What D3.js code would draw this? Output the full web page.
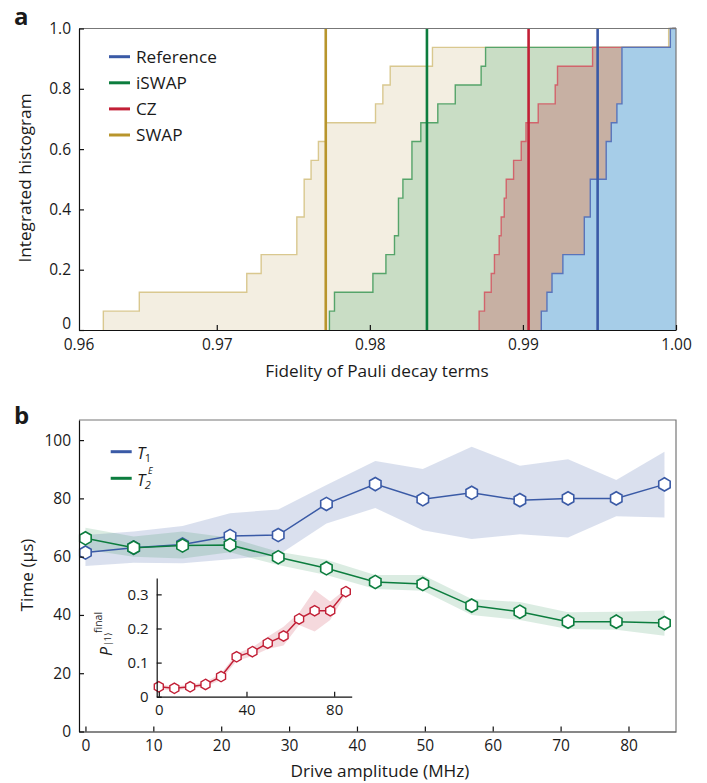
<!DOCTYPE html>
<html><head><meta charset="utf-8">
<script src="https://cdn.jsdelivr.net/npm/d3@7"></script>
<style>
body{margin:0;background:#fff}
svg{display:block}
text{font-family:"Open Sans","Liberation Sans",Arial,sans-serif;fill:#1a1a1a}
</style>
</head><body>
<svg id="c" width="707" height="783"></svg>
<script>
// ---------- DATA (panel a) ----------
const gateNames = ["Reference", "iSWAP", "CZ", "SWAP"];
const refFid   = [0.99120,0.99157,0.99190,0.99261,0.99401,0.99401,0.99440,0.99440,0.99544,0.99544,0.99577,0.99614,0.99647,0.99647,0.99647,0.99963];
const iswapFid = [0.97736,0.97769,0.98020,0.98105,0.98161,0.98187,0.98187,0.98216,0.98275,0.98275,0.98333,0.98444,0.98558,0.98727,0.98756,0.99980];
const czFid    = [0.98714,0.98749,0.98793,0.98814,0.98845,0.98858,0.98878,0.98891,0.98939,0.98989,0.99020,0.99100,0.99211,0.99226,0.99455,0.99980];
const swapFid  = [0.96259,0.96494,0.97196,0.97290,0.97523,0.97523,0.97571,0.97571,0.97616,0.97664,0.97714,0.98037,0.98085,0.98133,0.98409,0.99952];
const meanFid  = [0.99488, 0.98373, 0.99037, 0.97712]; // Reference, iSWAP, CZ, SWAP
const fidTicks = [0.97, 0.98, 0.99, 1.00];
const histTicks = [0, 0.2, 0.4, 0.6, 0.8, 1.0];

// ---------- DATA (panel b) ----------
const drive = [0, 7.1, 14.3, 21.3, 28.4, 35.5, 42.7, 49.7, 56.9, 64.0, 71.1, 78.2, 85.3];
const t1    = [61.4, 63.1, 64.2, 67.1, 67.4, 78.1, 84.9, 79.7, 81.9, 79.4, 80.0, 80.0, 84.8];
const t1Lo  = [56.8, 57.9, 57.7, 59.1, 60.5, 71.4, 76.7, 69.1, 66.1, 67.7, 66.6, 73.9, 73.4];
const t1Hi  = [67.4, 68.6, 70.5, 74.9, 76.2, 84.6, 92.8, 90.1, 97.7, 91.2, 93.4, 86.3, 96.0];
const t2    = [66.3, 63.1, 63.8, 64.0, 59.8, 56.0, 51.3, 50.6, 43.2, 41.1, 37.7, 37.7, 37.2];
const t2Lo  = [62.5, 60.0, 59.4, 61.5, 57.1, 53.7, 48.9, 48.3, 40.0, 38.3, 35.2, 34.9, 32.9];
const t2Hi  = [69.9, 66.9, 68.6, 66.5, 61.7, 58.9, 53.7, 53.7, 45.5, 44.4, 40.9, 41.1, 41.5];
const pFinal = [0.029, 0.0245, 0.029, 0.036, 0.059, 0.117, 0.132, 0.157, 0.178, 0.228, 0.252, 0.252, 0.308];
const pLo    = [0.022, 0.018, 0.023, 0.029, 0.050, 0.105, 0.119, 0.140, 0.150, 0.210, 0.191, 0.225, 0.301];
const pHi    = [0.036, 0.031, 0.035, 0.043, 0.068, 0.127, 0.145, 0.176, 0.205, 0.246, 0.313, 0.279, 0.315];
const driveTicks = [0,10,20,30,40,50,60,70,80];
const timeTicks = [0,20,40,60,80,100];
const insetXTicks = [0,40,80];
const insetYTicks = [0,0.1,0.2,0.3];

// ---------- STYLE ----------
const FONT = '"Open Sans","Liberation Sans",Arial,sans-serif';
const lineCol = {Reference:"#3a5aa6", iSWAP:"#0c7d3e", CZ:"#c21f36", SWAP:"#b8952c"};
const stepCol = {Reference:"#5874bb", iSWAP:"#55a46a", CZ:"#d2646c", SWAP:"#d9c88f"};
const fillCol = {Reference:"#a6cde8", iSWAP:"#c9ddc5", CZ:"#c7b0a3", SWAP:"#f3eee1"};
const svg = d3.select("#c");
const FS = 15.5;   // tick labels
const TS = 17.2;   // titles / legend

function styleAxis(a, fs) {
  a.selectAll("text").attr("font-size", fs).attr("font-family", FONT).attr("fill","#1a1a1a");
  a.selectAll("line").attr("stroke","#111").attr("stroke-width",1.2);
  a.select(".domain").attr("stroke","#111").attr("stroke-width",1.2);
}

// ================= PANEL A =================
const xa = d3.scaleLinear().domain([0.961, 1.0]).range([79, 676]);
const ya = d3.scaleLinear().domain([0, 1]).range([330, 28.5]);
const ga = svg.append("g");

const seriesData = {Reference: refFid, iSWAP: iswapFid, CZ: czFid, SWAP: swapFid};
const drawOrder = ["SWAP", "iSWAP", "CZ", "Reference"];
drawOrder.forEach(name => {
  const v = seriesData[name].slice().sort((a,b)=>a-b);
  const n = v.length;
  const pts = [[v[0], 0]];
  v.forEach((d,i) => pts.push([d, (i+1)/n]));
  pts.push([xa.domain()[1], 1]);
  const area = d3.area().curve(d3.curveStepAfter).x(d=>xa(d[0])).y0(ya(0)).y1(d=>ya(d[1]));
  const line = d3.line().curve(d3.curveStepAfter).x(d=>xa(d[0])).y(d=>ya(d[1]));
  ga.append("path").attr("d", area(pts)).attr("fill", fillCol[name]);
  ga.append("path").attr("d", line(pts)).attr("fill","none").attr("stroke", stepCol[name]).attr("stroke-width",1.4);
});
gateNames.forEach((name,i) => {
  ga.append("line").attr("x1", xa(meanFid[i])).attr("x2", xa(meanFid[i]))
    .attr("y1", ya(0)).attr("y2", ya(1)).attr("stroke", lineCol[name]).attr("stroke-width", 2.6);
});
ga.append("path").attr("d", `M${xa.range()[0]},${ya(1)}H${xa.range()[1]}V${ya(0)}`)
  .attr("fill","none").attr("stroke","#777").attr("stroke-width",1.2);
const axA = ga.append("g").attr("transform",`translate(0,${ya(0)})`)
  .call(d3.axisBottom(xa).tickValues(fidTicks).tickFormat(d3.format(".2f")).tickSize(-5).tickSizeOuter(0).tickPadding(8.5));
axA.append("text").attr("x", xa(xa.domain()[0])).attr("y", 8.5).attr("dy","0.71em").attr("text-anchor","middle").text("0.96");
const ayA = ga.append("g").attr("transform",`translate(${xa.range()[0]},0)`)
  .call(d3.axisLeft(ya).tickValues(histTicks).tickFormat(d => d===0 ? "0" : d3.format(".1f")(d)).tickSize(-5).tickSizeOuter(0).tickPadding(8));
ayA.selectAll(".tick").filter(d=>d===0).select("text").attr("dy","-0.1em");
styleAxis(axA, FS); styleAxis(ayA, FS);
ga.append("text").attr("x", 377).attr("y", 377).attr("text-anchor","middle").attr("font-size",TS).text("Fidelity of Pauli decay terms");
ga.append("text").attr("transform","translate(31,178) rotate(-90)").attr("text-anchor","middle").attr("font-size",TS).text("Integrated histogram");
gateNames.forEach((name,i) => {
  const yy = 56.7 + i*26.1;
  ga.append("line").attr("x1",109).attr("x2",130).attr("y1",yy).attr("y2",yy).attr("stroke",lineCol[name]).attr("stroke-width",3);
  ga.append("text").attr("x",136).attr("y",yy).attr("dy","0.36em").attr("font-size",TS).text(name);
});
svg.append("text").attr("x",14).attr("y",25).attr("font-size",24).attr("font-weight","bold").text("a");

// ================= PANEL B =================
const xb = d3.scaleLinear().domain([-0.95, 87.0]).range([79, 676]);
const yb = d3.scaleLinear().domain([0, 106.9]).range([731.5, 420]);
const gb = svg.append("g");
const hexPath = r => { const p = d3.path(); for (let k=0;k<6;k++){ const a=(-90+60*k)*Math.PI/180; const px=r*Math.cos(a), py=r*Math.sin(a); if(k===0)p.moveTo(px,py); else p.lineTo(px,py);} p.closePath(); return p.toString(); };

function series(g, xs, ys, xv, yv, lo, hi, col, bandOp, r, sw) {
  const band = d3.area().x((d,i)=>xs(xv[i])).y0((d,i)=>ys(lo[i])).y1((d,i)=>ys(hi[i]));
  g.append("path").attr("d", band(yv)).attr("fill", col).attr("fill-opacity", bandOp);
  return () => {
    const ln = d3.line().x((d,i)=>xs(xv[i])).y(d=>ys(d));
    g.append("path").attr("d", ln(yv)).attr("fill","none").attr("stroke",col).attr("stroke-width",1.5);
    g.selectAll(null).data(yv).enter().append("path")
      .attr("transform",(d,i)=>`translate(${xs(xv[i])},${ys(d)})`)
      .attr("d", hexPath(r)).attr("fill","#fff").attr("stroke",col).attr("stroke-width",sw);
  };
}
const T1C = "#3a5aa6", T2C = "#0c7d3e", PC = "#c21f36";
const d1 = series(gb, xb, yb, drive, t1, t1Lo, t1Hi, T1C, 0.19, 6.6, 1.6);
const d2 = series(gb, xb, yb, drive, t2, t2Lo, t2Hi, T2C, 0.15, 6.6, 1.6);
d1(); d2();

gb.append("path").attr("d", `M${xb.range()[0]},${yb.range()[1]}H${xb.range()[1]}V${yb.range()[0]}`)
  .attr("fill","none").attr("stroke","#777").attr("stroke-width",1.2);
const axB = gb.append("g").attr("transform",`translate(0,${yb(0)})`)
  .call(d3.axisBottom(xb).tickValues(driveTicks).tickSize(-5).tickSizeOuter(0).tickPadding(8));
const ayB = gb.append("g").attr("transform",`translate(${xb.range()[0]},0)`)
  .call(d3.axisLeft(yb).tickValues(timeTicks).tickSize(-5).tickSizeOuter(0).tickPadding(8));
styleAxis(axB, FS); styleAxis(ayB, FS);
gb.append("text").attr("x", 380).attr("y", 777).attr("text-anchor","middle").attr("font-size",TS).text("Drive amplitude (MHz)");
gb.append("text").attr("transform","translate(33,575) rotate(-90)").attr("text-anchor","middle").attr("font-size",TS).text("Time (μs)");
gb.append("line").attr("x1",110.7).attr("x2",131.7).attr("y1",451.7).attr("y2",451.7).attr("stroke",T1C).attr("stroke-width",3);
gb.append("line").attr("x1",110.7).attr("x2",131.7).attr("y1",478.3).attr("y2",478.3).attr("stroke",T2C).attr("stroke-width",3);
const l1 = gb.append("text").attr("x",137).attr("y",458.5).attr("font-size",16.5);
l1.append("tspan").attr("font-style","italic").text("T");
l1.append("tspan").attr("font-size",11).attr("dy",3.5).attr("dx",-0.5).text("1");
const l2 = gb.append("text").attr("x",137).attr("y",485.5).attr("font-size",16.5);
l2.append("tspan").attr("font-style","italic").text("T");
l2.append("tspan").attr("font-size",11).attr("dy",3.5).attr("dx",-0.5).attr("font-style","italic").text("2");
gb.append("text").attr("x",148).attr("y",473.5).attr("font-size",9).attr("font-style","italic").text("E");
svg.append("text").attr("x",14).attr("y",424).attr("font-size",24).attr("font-weight","bold").text("b");

// ---------- INSET ----------
const xi = d3.scaleLinear().domain([-0.96, 88.0]).range([156.7, 351.7]);
const yi = d3.scaleLinear().domain([0, 0.348]).range([696.7, 578]);
const gi = svg.append("g");
const d3i = series(gi, xi, yi, drive, pFinal, pLo, pHi, PC, 0.17, 5.2, 1.4);
d3i();
const axI = gi.append("g").attr("transform",`translate(0,${yi(0)})`)
  .call(d3.axisBottom(xi).tickValues(insetXTicks).tickSize(-5).tickSizeOuter(0).tickPadding(8));
const ayI = gi.append("g").attr("transform",`translate(${xi.range()[0]},0)`)
  .call(d3.axisLeft(yi).tickValues(insetYTicks).tickFormat(d => d===0 ? "0" : d3.format(".1f")(d)).tickSize(-5).tickSizeOuter(0).tickPadding(8));
styleAxis(axI, 15); styleAxis(ayI, 15);
const pl = gi.append("g").attr("transform","translate(112,656) rotate(-90)");
pl.append("text").attr("x",0).attr("y",0).attr("font-size",16).attr("font-style","italic").text("P");
pl.append("text").attr("x",10).attr("y",-1).attr("font-size",8.5).text("|1⟩");
pl.append("text").attr("x",23).attr("y",-10).attr("font-size",10.5).text("final");
</script>
</body></html>
